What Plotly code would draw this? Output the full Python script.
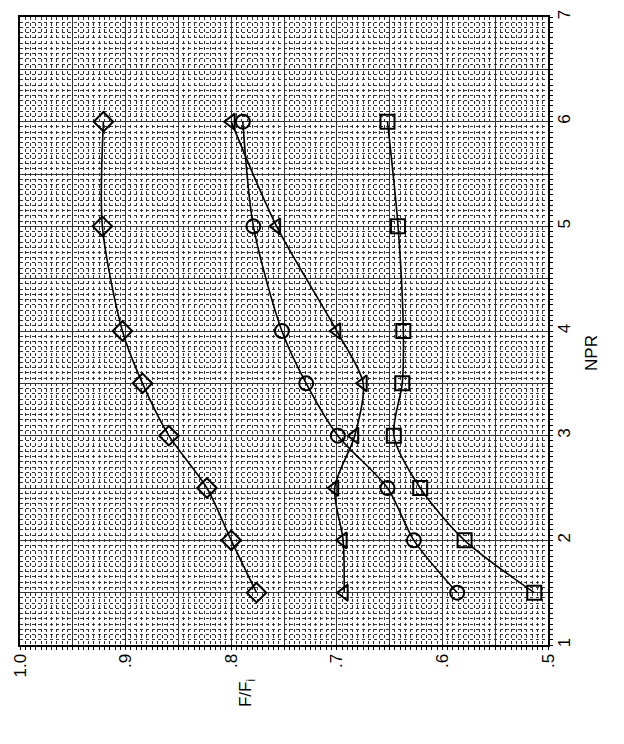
import plotly.graph_objects as go

# Nozzle pressure ratio at each test point
npr = [1.5, 2.0, 2.5, 3.0, 3.5, 4.0, 5.0, 6.0]

# Thrust ratio F/Fi for each configuration
f_diamond = [0.776, 0.800, 0.823, 0.859, 0.884, 0.903, 0.922, 0.921]
f_circle = [0.586, 0.627, 0.652, 0.699, 0.729, 0.752, 0.779, 0.789]
f_triangle = [0.693, 0.694, 0.702, 0.683, 0.675, 0.700, 0.757, 0.800]
f_square = [0.513, 0.579, 0.621, 0.646, 0.638, 0.637, 0.642, 0.652]

# Axis ticks (thrust ratio runs horizontally, NPR vertically on the right)
x_ticks = [1.0, 0.9, 0.8, 0.7, 0.6, 0.5]
x_labels = ["1.0", ".9", ".8", ".7", ".6", ".5"]
y_ticks = [1, 2, 3, 4, 5, 6, 7]
y_labels = ["1", "2", "3", "4", "5", "6", "7"]

series = [
    (f_diamond, "diamond-open", 15),
    (f_circle, "circle-open", 14),
    (f_triangle, "triangle-left-open", 14),
    (f_square, "square-open", 14),
]

fig = go.Figure()

# empty trace that carries the secondary (half-division) grid axes
fig.add_trace(go.Scatter(x=[None], y=[None], xaxis="x2", yaxis="y2",
                         showlegend=False, hoverinfo="skip"))

for vals, sym, size in series:
    fig.add_trace(go.Scatter(
        x=vals, y=npr,
        mode="lines+markers",
        line=dict(color="black", width=1.6, shape="spline", smoothing=0.8),
        marker=dict(symbol=sym, size=size, color="black",
                    line=dict(color="black", width=2)),
        showlegend=False,
    ))

font = dict(family="Liberation Sans, Arial, sans-serif", size=17, color="black")

fig.update_layout(
    width=624, height=744,
    margin=dict(l=20, r=76, t=10, b=99),
    paper_bgcolor="white", plot_bgcolor="white",
    font=font,
    xaxis=dict(
        range=[1.0, 0.5],
        tickmode="array", tickvals=x_ticks, ticktext=x_labels,
        tickangle=-90, ticks="", ticklen=0,
        showgrid=True, gridcolor="#111", gridwidth=1,
        showline=True, linecolor="black", linewidth=2, mirror=True,
        zeroline=False,
        minor=dict(tickmode="linear", tick0=0.5, dtick=0.005,
                   showgrid=True, gridcolor="#333", gridwidth=1, griddash="dot",
                   ticks="outside", ticklen=3, tickcolor="black"),
        tickfont=font,
    ),
    yaxis=dict(
        range=[1, 7], side="right",
        tickmode="array", tickvals=y_ticks, ticktext=y_labels,
        tickangle=-90, ticks="", ticklen=0,
        showgrid=True, gridcolor="#111", gridwidth=1,
        showline=True, linecolor="black", linewidth=2, mirror=True,
        zeroline=False,
        minor=dict(tickmode="linear", tick0=1, dtick=0.05,
                   showgrid=True, gridcolor="#333", gridwidth=1, griddash="dot",
                   ticks="outside", ticklen=3, tickcolor="black"),
        tickfont=font,
    ),
    xaxis2=dict(
        overlaying="x", range=[1.0, 0.5],
        tickmode="linear", tick0=0.5, dtick=0.05,
        showgrid=True, gridcolor="#333", gridwidth=1,
        showticklabels=False, ticks="", zeroline=False, showline=False,
    ),
    yaxis2=dict(
        overlaying="y", range=[1, 7], side="right",
        tickmode="linear", tick0=1, dtick=0.5,
        showgrid=True, gridcolor="#333", gridwidth=1,
        showticklabels=False, ticks="", zeroline=False, showline=False,
    ),
    annotations=[
        dict(text="NPR", x=1.105, y=0.465, xref="paper", yref="paper",
             showarrow=False, textangle=-90, font=font),
        dict(text="F/F<sub>i</sub>", x=0.43, y=-0.102, xref="paper", yref="paper",
             showarrow=False, textangle=-90, font=font),
    ],
)

fig.write_html("out.html")
